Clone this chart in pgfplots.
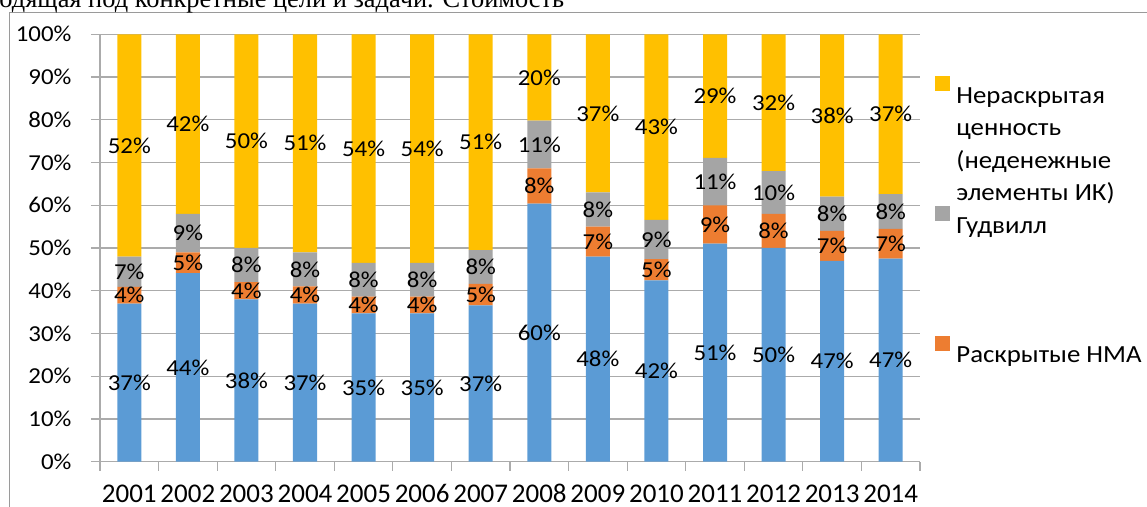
\documentclass[border=0pt]{standalone}
\usepackage{pgfplots}
\pgfplotsset{compat=1.18}
\usepackage{pgfplotstable}
\usepackage{fontspec}
\setmainfont{Carlito}[FakeStretch=1.09]
\newfontfamily\yearfam{Carlito}
\newfontfamily\topfont{Liberation Serif}

\definecolor{cBlue}{HTML}{5B9BD5}
\definecolor{cOrange}{HTML}{ED7D31}
\definecolor{cGray}{HTML}{A5A5A5}
\definecolor{cYellow}{HTML}{FFC000}
\definecolor{cGrid}{HTML}{ABABAB}
\definecolor{cFrame}{HTML}{9A9A9A}

\newcommand\lblfont{\fontsize{11.4}{13.7}\selectfont}
\newcommand\yearfont{\yearfam\fontsize{13.5}{16}\selectfont}
\newcommand\legfont{\fontsize{12.3}{16.25}\selectfont}

% b = blue base, o = раскрытые НМА, g = гудвилл, y = нераскрытая ценность
% *l columns hold the printed labels
\pgfplotstableread{
x  b     bl  o    ol  g     gl  y     yl
0  37.0  37  3.9  4   7.1   7   52.0  52
1  44.1  44  4.9  5   9.0   9   42.0  42
2  38.0  38  4.0  4   8.0   8   50.0  50
3  37.0  37  4.0  4   8.0   8   51.0  51
4  34.7  35  3.9  4   7.9   8   53.5  54
5  34.7  35  3.9  4   7.9   8   53.5  54
6  36.6  37  5.0  5   7.9   8   50.5  51
7  60.4  60  8.2  8   11.2  11  20.2  20
8  48.0  48  7.0  7   8.0   8   37.0  37
9  42.4  42  5.0  5   9.2   9   43.4  43
10 51.0  51  9.0  9   11.1  11  28.9  29
11 50.0  50  8.0  8   10.0  10  32.0  32
12 47.0  47  7.0  7   8.0   8   38.0  38
13 47.5  47  7.0  7   8.1   8   37.4  37
}\data

\begin{document}
\begin{tikzpicture}
\draw[cFrame, line width=0.6pt] (4.65pt,-2pt) -- (4.65pt,247.25pt) -- (575pt,247.25pt);
\node[anchor=base west, inner sep=0pt, font=\topfont\fontsize{13.2}{15}\selectfont]
  at (-0.5pt,249.6pt) {одящая под конкретные цели и задачи. Стоимость};

\begin{axis}[
  at={(50pt,22.65pt)}, anchor=south west,
  scale only axis,
  width=410pt, y=2.137pt,
  xmin=-0.5, xmax=13.5, ymin=0, ymax=100,
  enlargelimits=false,
  ybar stacked, bar width=12pt,
  axis x line*=bottom, axis y line*=left,
  axis line style={draw=cGrid, line width=0.6pt},
  xtick={-0.5,0.5,...,13.5},
  x tick label as interval,
  xticklabels={2001,2002,2003,2004,2005,2006,2007,2008,2009,2010,2011,2012,2013,2014},
  ytick={0,10,...,100},
  yticklabels={0\%,10\%,20\%,30\%,40\%,50\%,60\%,70\%,80\%,90\%,100\%},
  tick align=outside,
  major tick length=4.5pt,
  tick style={draw=cGrid, line width=0.6pt},
  ymajorgrids,
  grid style={draw=cGrid, line width=0.6pt},
  xticklabel style={font=\yearfont, anchor=base, inner sep=0pt, yshift=-15.8pt},
  yticklabel style={font=\lblfont, anchor=east, inner sep=0pt, xshift=-9.6pt},
  point meta=explicit symbolic,
  nodes near coords={\pgfplotspointmeta\%},
  nodes near coords align={center},
  every node near coord/.append style={font=\lblfont, inner sep=0pt, text=black},
  legend cell align=left,
  legend image code/.code={\fill[#1] (0pt,1pt) rectangle (7.5pt,8.5pt);},
  legend style={at={(axis description cs:1.01829,0.9025)}, anchor=north west,
    draw=none, fill=none, inner sep=0pt, row sep=50pt, column sep=3pt,
    font=\legfont, nodes={inner sep=0pt}},
]
\addplot[fill=cBlue, draw=none, forget plot] table[x=x, y=b, meta=bl] {\data};
\addplot[fill=cOrange, draw=none, forget plot] table[x=x, y=o, meta=ol] {\data};
\addplot[fill=cGray, draw=none, forget plot] table[x=x, y=g, meta=gl] {\data};
\addplot[fill=cYellow, draw=none, forget plot] table[x=x, y=y, meta=yl] {\data};

\addlegendimage{fill=cYellow, draw=none}
\addlegendentry{\parbox[t]{4cm}{\raggedright\strut Нераскрытая\\ценность\\(неденежные\\элементы ИК)}}
\addlegendimage{fill=cGray, draw=none}
\addlegendentry{\parbox[t]{4cm}{\raggedright\strut Гудвилл}}
\addlegendimage{fill=cOrange, draw=none}
\addlegendentry{\parbox[t]{4cm}{\raggedright\strut Раскрытые НМА}}
\end{axis}
\pgfresetboundingbox
\useasboundingbox (0pt,0pt) rectangle (573.5pt,253.5pt);
\end{tikzpicture}
\end{document}
